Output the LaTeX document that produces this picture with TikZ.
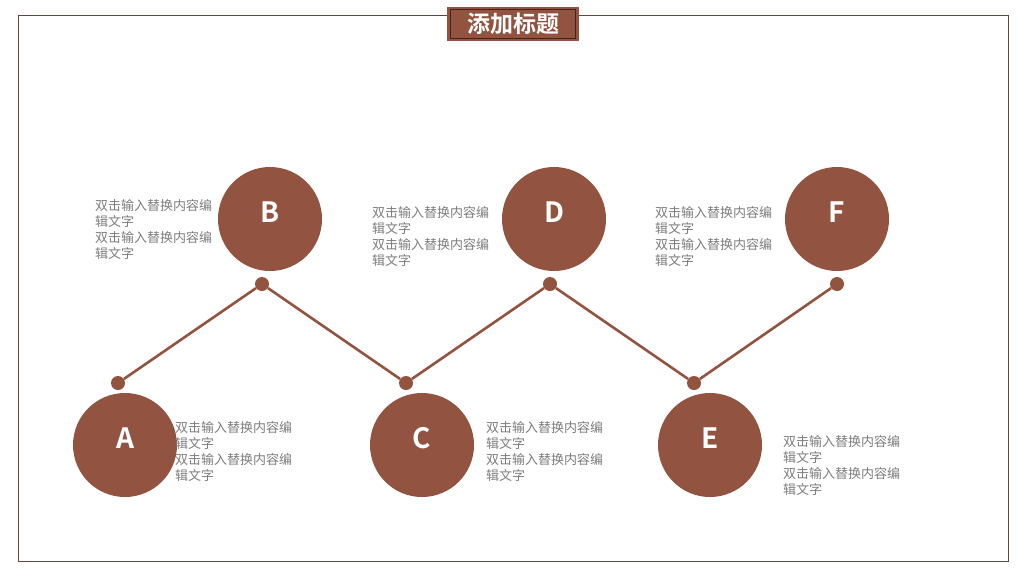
\documentclass[tikz,border=0pt]{standalone}
\usepackage{fontspec}
\newfontfamily\cjk{Noto Sans CJK SC}
\newfontfamily\cjkbold{Noto Sans CJK SC Bold}
\definecolor{brick}{RGB}{146,84,64}
\definecolor{darkbrick}{RGB}{70,35,25}
\definecolor{note}{RGB}{125,125,125}
\usetikzlibrary{calc}

\begin{document}
\begin{tikzpicture}
	[x=1pt,y=-1pt,every node/.style={inner sep=0pt}]
	\tikzstyle{edges} = [brick, line width=2.6pt];
	\tikzstyle{big} = [circle, fill=brick, minimum size=104pt, text=white, text height=20pt, text depth=13pt, font=\cjkbold\fontsize{28}{30}\selectfont];
	\tikzstyle{dot} = [circle, fill=brick, minimum size=14pt];
	\tikzstyle{txt} = [anchor=north west, align=left, text=note, font=\cjk\fontsize{13}{16}\selectfont];
	\useasboundingbox (0,0) rectangle (1024,576);
	\fill[white] (0,0) rectangle (1024,576);
	
	% frame and title
	\draw[darkbrick!85, line width=0.8pt] (18,15) rectangle (1008,561);
	\node[fill=brick, minimum width=132pt, minimum height=34pt] (title) at (513,24) {};
	\draw[darkbrick, line width=1pt] ($(title.north west)+(4,3)$) rectangle ($(title.south east)+(-4,-3)$);
	\node[text=white, font=\cjkbold\fontsize{23}{26}\selectfont] at (title) {添加标题};
	
	\node[big] (cA) at (125,445) {A};
	\node[big] (cB) at (270,219) {B};
	\node[big] (cC) at (422,445) {C};
	\node[big] (cD) at (554,219) {D};
	\node[big] (cE) at (710,445) {E};
	\node[big] (cF) at (837,219) {F};
	
	\node[dot] (d1) at (118,383) {};
	\node[dot] (d2) at (262,284) {};
	\node[dot] (d3) at (406,383) {};
	\node[dot] (d4) at (550,284) {};
	\node[dot] (d5) at (694,383) {};
	\node[dot] (d6) at (837,284) {};
	
	\draw[edges] (d1) -- (d2);
	\draw[edges] (d2) -- (d3);
	\draw[edges] (d3) -- (d4);
	\draw[edges] (d4) -- (d5);
	\draw[edges] (d5) -- (d6);
	
	\node[txt] (tB) at (95,199) {双击输入替换内容编\\辑文字\\双击输入替换内容编\\辑文字};
	\node[txt] (tD) at (372,206) {双击输入替换内容编\\辑文字\\双击输入替换内容编\\辑文字};
	\node[txt] (tF) at (655,206) {双击输入替换内容编\\辑文字\\双击输入替换内容编\\辑文字};
	\node[txt] (tA) at (175,421) {双击输入替换内容编\\辑文字\\双击输入替换内容编\\辑文字};
	\node[txt] (tC) at (486,421) {双击输入替换内容编\\辑文字\\双击输入替换内容编\\辑文字};
	\node[txt] (tE) at (783,435) {双击输入替换内容编\\辑文字\\双击输入替换内容编\\辑文字};
\end{tikzpicture}
\end{document}
